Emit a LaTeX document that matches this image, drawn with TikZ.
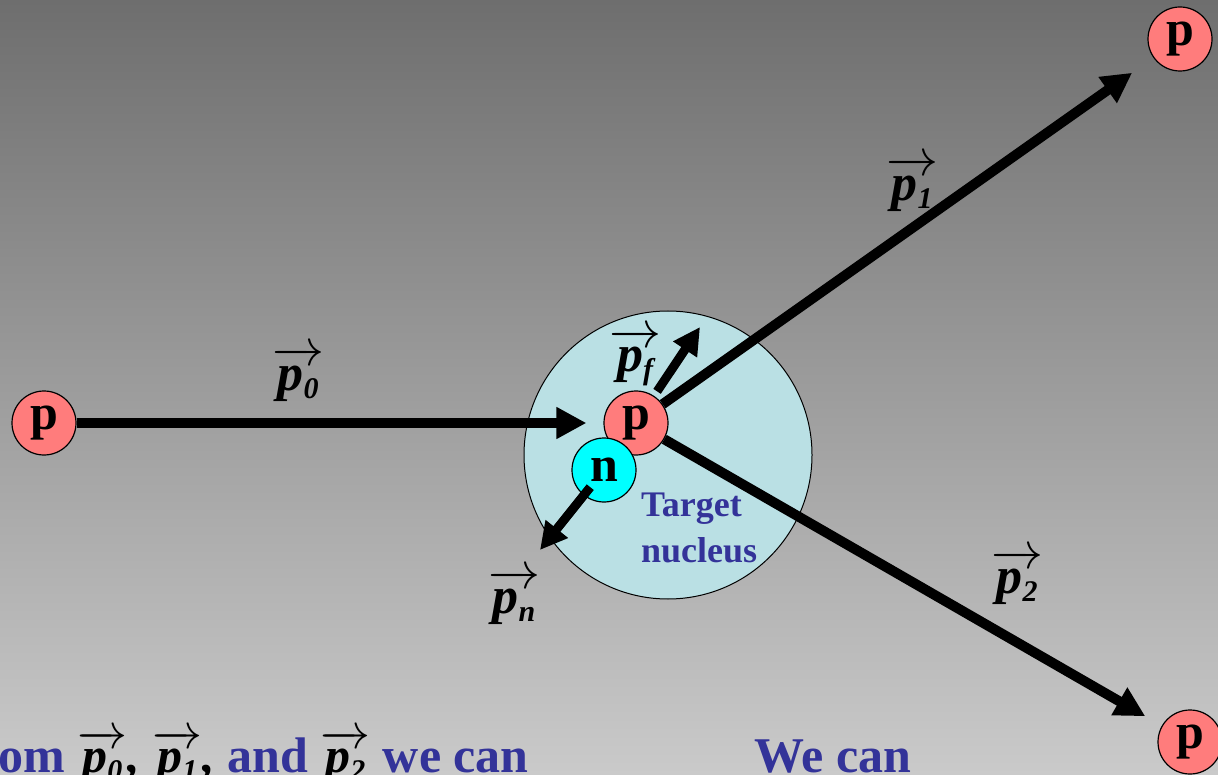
\RequirePackage{fix-cm}
\documentclass[tikz,border=0pt]{standalone}
\usepackage{amsmath}
\usepackage{fontspec}
\setmainfont{Liberation Serif}
\usetikzlibrary{arrows.meta}
\definecolor{bgtop}{RGB}{110,110,110}
\definecolor{bgbot}{RGB}{202,202,202}
\definecolor{colP}{RGB}{255,124,124}
\definecolor{colN}{RGB}{0,255,255}
\definecolor{colNuc}{RGB}{186,224,228}
\definecolor{txtblue}{RGB}{51,51,153}
\newcommand{\pv}[1]{\ensuremath{\overrightarrow{\text{\bfseries\itshape p}\text{\fontsize{30}{30}\selectfont\bfseries\itshape\raisebox{-8pt}{#1}}}}}
\begin{document}
\begin{tikzpicture}[x=1pt,y=-1pt,
  particle/.style={circle,draw=black,line width=1.2pt,minimum size=64pt,inner sep=0pt,
    font=\fontsize{50}{50}\selectfont\bfseries},
  protonball/.style={particle,fill=colP},
  neutronball/.style={particle,fill=colN},
  nucball/.style={circle,draw=black,line width=1pt,fill=colNuc,minimum size=288pt,inner sep=0pt},
  vec/.style={line width=10pt,-{Triangle[length=30pt,width=30pt]}},
  vecs/.style={line width=9pt,-{Triangle[length=27pt,width=27pt]}},
  veclabel/.style={inner sep=0pt,font=\fontsize{52}{60}\selectfont},
  nuctext/.style={inner sep=0pt,anchor=base west,text=txtblue,font=\fontsize{36}{40}\selectfont\bfseries},
  bottomtext/.style={inner sep=0pt,anchor=base west,text=txtblue,font=\fontsize{50}{60}\selectfont\bfseries}]
\shade[top color=bgtop,bottom color=bgbot] (0,0) rectangle (1218,775);
\useasboundingbox (0,0) rectangle (1218,775);

% nucleus
\node[nucball] (nuc) at (668,455) {};
\node[nuctext] (tg1) at (641,516) {Target};
\node[nuctext] (tg2) at (641,562) {nucleus};

% particles
\node[protonball] (pL) at (44,423) {p};
\node[protonball] (pT) at (1180,39) {p};
\node[protonball] (pB) at (1190,742) {p};
\node[protonball] (pc) at (636,423) {p};
\node[neutronball] (nn) at (604,470) {n};

\coordinate (pfend) at (700,327);
\coordinate (pnend) at (540,550);

% momentum arrows
\draw[vec,shorten >=17pt] (pL) -- (pc);
\draw[vec,shorten >=26pt] (pc) -- (pT);
\draw[vec,shorten >=19pt] (pc) -- (pB);
\draw[vecs,shorten <=38pt] (pc.center) -- (pfend);
\draw[vecs,shorten <=22pt] (nn.center) -- (pnend);

% labels
\node[veclabel] (l0) at (298,374) {\pv{0}};
\node[veclabel] (l1) at (912,184) {\pv{1}};
\node[veclabel] (l2) at (1017,577) {\pv{2}};
\node[veclabel] (lf) at (635,357) {\pv{f}};
\node[veclabel] (ln) at (514,597) {\pv{n}};

% bottom text
\node[bottomtext] (bt1) at (-2,772) {om \textcolor{black}{\pv{0}\textit{,}} \textcolor{black}{\pv{1}\textit{,}} and \textcolor{black}{\pv{2}} we can};
\node[bottomtext] (bt2) at (754,772) {We can};
\end{tikzpicture}
\end{document}
